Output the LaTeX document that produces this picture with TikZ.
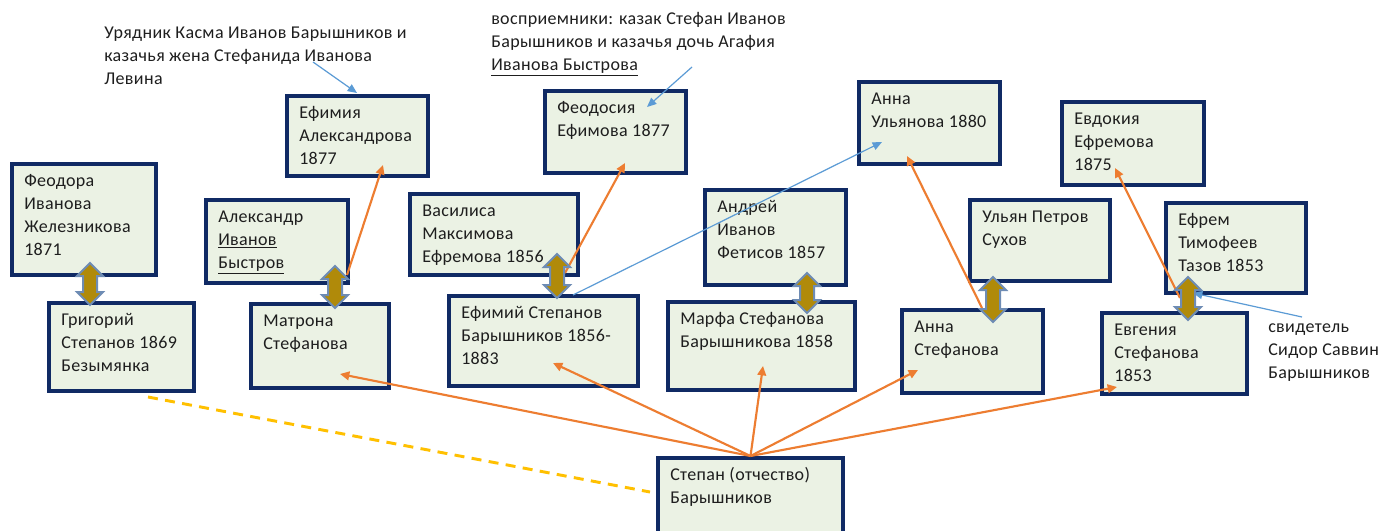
\documentclass[tikz,border=0pt]{standalone}
\usepackage{fontspec}
\setmainfont[LetterSpace=2]{Carlito}
\usetikzlibrary{arrows.meta}
\definecolor{boxborder}{RGB}{16,42,100}
\definecolor{boxfill}{RGB}{235,242,228}
\definecolor{kinorange}{RGB}{237,125,49}
\definecolor{noteblue}{RGB}{91,155,213}
\definecolor{dashyellow}{RGB}{255,192,0}
\definecolor{spousefill}{RGB}{176,138,10}
\definecolor{spouseline}{RGB}{110,140,180}
\definecolor{textgray}{RGB}{30,30,30}
\newcommand\pxu{0.75pt}
\tikzset{
  pbox/.style={rectangle, draw=boxborder, fill=boxfill, line width=3pt, inner sep=0pt},
  ptext/.style={anchor=north west, inner sep=0pt, align=left, text=textgray, font=\fontsize{13.5pt}{17.25pt}\selectfont},
  kin/.style={draw=kinorange, line width=1.6pt, -{Triangle[length=7pt,width=6.5pt]}},
  note/.style={draw=noteblue, line width=0.9pt, -{Triangle[length=7pt,width=6pt]}},
  spouse/.style={fill=spousefill, draw=spouseline, line width=1.5pt, line join=miter},
  link/.style={draw=dashyellow, line width=2.2pt, dash pattern=on 7.5pt off 5.5pt}
}
\newcommand\pbox[6]{%
  \node[pbox, minimum width={(#4-#2-4)*\pxu}, minimum height={(#5-#3-4)*\pxu}] (#1) at ({(#2+#4)/2},{(#3+#5)/2}) {};
  \node[ptext] (#1-t) at (#2+14,#3+8) {\strut #6};
}
\newcommand\spousearrow[3]{%
  \path[spouse] (#1,#2) -- (#1+13,#2+13) -- (#1+7,#2+13) -- (#1+7,#3-13) -- (#1+13,#3-13)
    -- (#1,#3) -- (#1-13,#3-13) -- (#1-7,#3-13) -- (#1-7,#2+13) -- (#1-13,#2+13) -- cycle;
}
\begin{document}
\begin{tikzpicture}[x=0.75pt,y=-0.75pt]
\clip (0,0) rectangle (1383,531);
\fill[white] (0,0) rectangle (1383,531);

% free texts
\node[ptext] (uryad) at (104,22) {\strut Урядник Касма Иванов Барышников и\\казачья жена Стефанида Иванова\\Левина};
\node[ptext] (vospr) at (491,8) {\strut восприемники: казак Стефан Иванов\\Барышников и казачья дочь Агафия\\\underline{Иванова Быстрова}};
\node[ptext] (svid) at (1268,316) {\strut свидетель\\Сидор Саввин\\Барышников};

% person boxes
\pbox{feodora}{10}{162}{158}{277}{Феодора\\Иванова\\Железникова\\1871}
\pbox{grigoriy}{47}{301}{196}{393}{Григорий\\Степанов 1869\\Безымянка}
\pbox{efimia}{285}{94}{430}{178}{Ефимия\\Александрова\\1877}
\pbox{aleksandr}{204}{198}{350}{285}{Александр\\\underline{Иванов}\\\underline{Быстров}}
\pbox{matrona}{249}{302}{391}{390}{Матрона\\Стефанова}
\pbox{feodosia}{543}{89}{688}{175}{Феодосия\\Ефимова 1877}
\pbox{vasilisa}{408}{192}{580}{277}{Василиса\\Максимова\\Ефремова 1856}
\pbox{efimiy}{447}{294}{640}{388}{Ефимий Степанов\\Барышников 1856-\\1883}
\pbox{andrey}{703}{188}{848}{287}{Андрей\\Иванов\\Фетисов 1857}
\pbox{marfa}{666}{300}{857}{392}{Марфа Стефанова\\Барышникова 1858}
\pbox{annau}{857}{80}{1002}{166}{Анна\\Ульянова 1880}
\pbox{ulyan}{968}{198}{1112}{283}{Ульян Петров\\Сухов}
\pbox{annas}{900}{308}{1045}{395}{Анна\\Стефанова}
\pbox{evdokia}{1060}{100}{1206}{187}{Евдокия\\Ефремова\\1875}
\pbox{efrem}{1164}{201}{1308}{295}{Ефрем\\Тимофеев\\Тазов 1853}
\pbox{evgenia}{1100}{311}{1249}{396}{Евгения\\Стефанова\\1853}
\pbox{stepan}{656}{456}{845}{552}{Степан (отчество)\\Барышников}

% named points
\coordinate (matrona-in) at (340,374);
\coordinate (efimiy-in) at (553,363);
\coordinate (marfa-in) at (763,366);
\coordinate (annas-in) at (918,370);
\coordinate (evgenia-in) at (1117,387);
\coordinate (matrona-up) at (347,275);
\coordinate (efimia-in) at (383,165);
\coordinate (efimiy-up) at (565,273);
\coordinate (feodosia-in) at (625,163);
\coordinate (annas-up) at (982,308);
\coordinate (annau-in) at (907,156);
\coordinate (evgenia-up) at (1180,298);
\coordinate (evdokia-in) at (1115,168);
\coordinate (efimiy-top) at (573,295);
\coordinate (annau-in2) at (882,142);
\coordinate (uryad-end) at (313,62);
\coordinate (efimia-top) at (357,93);
\coordinate (vospr-end) at (692,67);
\coordinate (feodosia-in2) at (647,107);
\coordinate (svid-end) at (1302,317);
\coordinate (efrem-in) at (1193,293);
\coordinate (grigoriy-low) at (148,397);
\coordinate (stepan-left) at (650,492);

% connectors
\draw[link] (grigoriy-low) -- (stepan-left);
\draw[kin] (stepan.north) -- (matrona-in);
\draw[kin] (stepan.north) -- (efimiy-in);
\draw[kin] (stepan.north) -- (marfa-in);
\draw[kin] (stepan.north) -- (annas-in);
\draw[kin] (stepan.north) -- (evgenia-in);
\draw[kin] (matrona-up) -- (efimia-in);
\draw[kin] (efimiy-up) -- (feodosia-in);
\draw[kin] (annas-up) -- (annau-in);
\draw[kin] (evgenia-up) -- (evdokia-in);
\draw[note] (efimiy-top) -- (annau-in2);
\draw[note] (uryad-end) -- (efimia-top);
\draw[note] (vospr-end) -- (feodosia-in2);
\draw[note] (svid-end) -- (efrem-in);

% spouse double arrows
\spousearrow{90}{263}{305}
\spousearrow{335}{266}{308}
\spousearrow{557}{254}{298}
\spousearrow{807}{273}{313}
\spousearrow{993}{277}{322}
\spousearrow{1188}{277}{320}
\end{tikzpicture}
\end{document}
